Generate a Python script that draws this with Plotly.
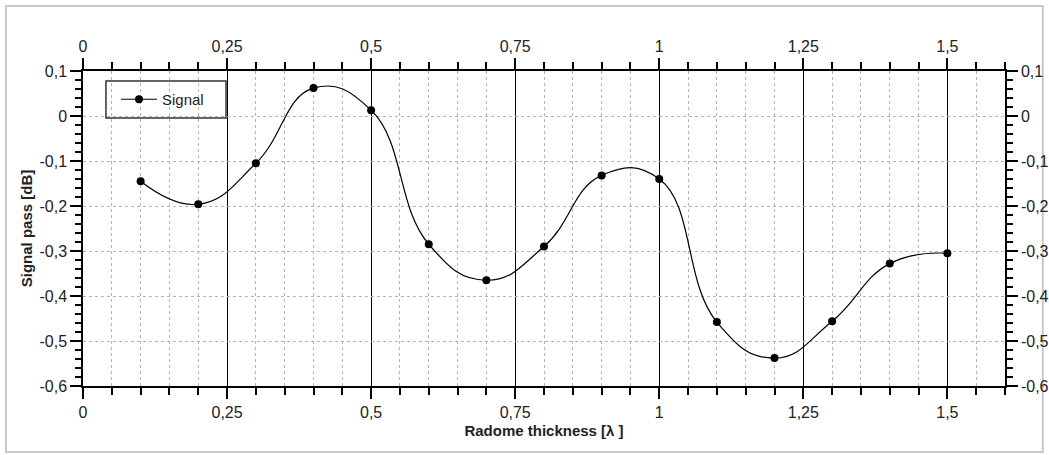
import plotly.graph_objects as go

thickness = [0.1, 0.2, 0.3, 0.4, 0.5, 0.6, 0.7, 0.8, 0.9, 1.0, 1.1, 1.2, 1.3, 1.4, 1.5]
signal_db = [-0.145, -0.196, -0.105, 0.062, 0.013, -0.285, -0.365, -0.29, -0.132, -0.14,
             -0.458, -0.538, -0.456, -0.328, -0.305]

x_ticks = [0, 0.25, 0.5, 0.75, 1.0, 1.25, 1.5]
x_labels = ["0", "0,25", "0,5", "0,75", "1", "1,25", "1,5"]
y_ticks = [0.1, 0.0, -0.1, -0.2, -0.3, -0.4, -0.5, -0.6]
y_labels = ["0,1", "0", "-0,1", "-0,2", "-0,3", "-0,4", "-0,5", "-0,6"]

X_RANGE = [0, 1.6]
Y_RANGE = [-0.6, 0.1]

FONT = "Liberation Sans, Arial, sans-serif"
TICKFONT = dict(family=FONT, size=16, color="#222")

fig = go.Figure()
fig.add_trace(go.Scatter(
    x=thickness, y=signal_db, mode="lines+markers", name="Signal",
    line=dict(color="black", width=1.2, shape="spline", smoothing=1.3),
    marker=dict(color="black", size=8, symbol="circle"),
))
fig.add_trace(go.Scatter(
    x=thickness, y=signal_db, xaxis="x2", yaxis="y2", mode="markers",
    marker=dict(opacity=0), showlegend=False, hoverinfo="skip",
))

common_x = dict(
    range=X_RANGE, tickvals=x_ticks, ticktext=x_labels, ticks="outside",
    ticklen=11, tickcolor="black", tickwidth=1.5, showline=True, linecolor="black",
    linewidth=1.5, tickfont=TICKFONT, zeroline=False, automargin=False,
)
common_y = dict(
    range=Y_RANGE, tickvals=y_ticks, ticktext=y_labels, ticks="outside",
    ticklen=11, tickcolor="black", tickwidth=1.5, showline=True, linecolor="black",
    linewidth=1.5, tickfont=TICKFONT, zeroline=False, automargin=False,
)

GRIDGRAY = "#b4b4b4"

fig.update_layout(
    width=1049, height=455, autosize=False,
    margin=dict(l=83, r=44, t=71, b=69, autoexpand=False),
    paper_bgcolor="white", plot_bgcolor="white",
    font=dict(family=FONT, color="#222"),
    xaxis=dict(
        **common_x, side="bottom",
        showgrid=True, gridcolor="black", gridwidth=1.2,
        minor=dict(dtick=0.05, tick0=0, ticks="outside", ticklen=7, tickcolor="black",
                   tickwidth=1.5, showgrid=True, gridcolor=GRIDGRAY, griddash="dot",
                   gridwidth=1),
        title=dict(text="<b>Radome thickness [λ ]</b>", font=dict(family=FONT, size=15, color="#222"),
                   standoff=6),
    ),
    xaxis2=dict(
        **common_x, side="top", overlaying="x", showgrid=False,
        minor=dict(dtick=0.05, tick0=0, ticks="outside", ticklen=7, tickcolor="black",
                   tickwidth=1.5, showgrid=False),
    ),
    yaxis=dict(
        **common_y, side="left",
        showgrid=True, gridcolor=GRIDGRAY, griddash="dot", gridwidth=1,
        minor=dict(dtick=0.02, tick0=0, ticks="outside", ticklen=6, tickcolor="black",
                   tickwidth=1.5, showgrid=False),
        title=dict(text="<b>Signal pass [dB]</b>", font=dict(family=FONT, size=15, color="#222"),
                   standoff=3),
    ),
    yaxis2=dict(
        **common_y, side="right", overlaying="y", showgrid=False,
        minor=dict(dtick=0.02, tick0=0, ticks="outside", ticklen=6, tickcolor="black",
                   tickwidth=1.5, showgrid=False),
    ),
    legend=dict(
        x=0.0358, y=0.9095, xanchor="left", yanchor="middle",
        bgcolor="rgba(0,0,0,0)", borderwidth=0, itemwidth=36,
        font=dict(family=FONT, size=15, color="#222"),
    ),
    showlegend=True,
    shapes=[
        dict(type="rect", xref="paper", yref="paper",
             x0=-0.0835, x1=1.041, y0=-0.2095, y1=1.206,
             line=dict(color="#c8c8c8", width=2), layer="below"),
        dict(type="rect", xref="paper", yref="paper",
             x0=0.0249, x1=0.1551, y0=0.8508, y1=0.968,
             line=dict(color="#333", width=1.5), layer="above"),
    ],
)

fig.write_html("out.html")
